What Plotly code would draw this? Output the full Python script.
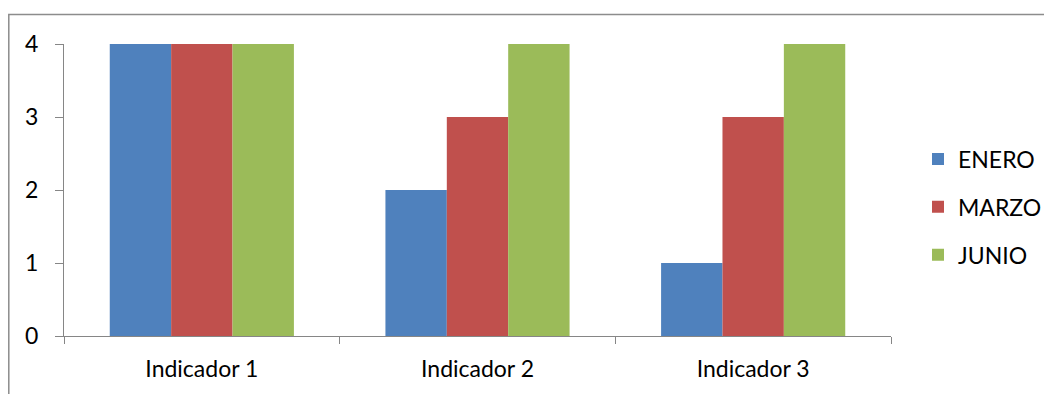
import plotly.graph_objects as go

categories = ["Indicador 1", "Indicador 2", "Indicador 3"]
enero = [4, 2, 1]
marzo = [4, 3, 3]
junio = [4, 4, 4]
series_names = ["ENERO", "MARZO", "JUNIO"]
colors = ["#4F81BD", "#C0504D", "#9BBB59"]

fig = go.Figure()
for name, vals, col in zip(series_names, [enero, marzo, junio], colors):
    fig.add_trace(go.Bar(x=categories, y=vals, name=name, marker_color=col,
                         marker_line_width=0, legendgroup=name))

FONT = "Lato"
W, H = 1044, 386
L, T = 56, 36
R, B = 161, 58
PW, PH = W - L - R, H - T - B
fig.update_layout(
    width=W, height=H,
    margin=dict(l=L, r=R, t=T, b=B, autoexpand=False),
    paper_bgcolor="white", plot_bgcolor="white",
    barmode="group", bargap=0.332, bargroupgap=0,
    font=dict(family=FONT, size=23, color="#000000"),
    showlegend=True,
    legend=dict(x=(910 - L) / PW, y=1 - (199 - T) / PH, xanchor="left", yanchor="middle",
                font=dict(size=23), tracegroupgap=15, itemwidth=30,
                bgcolor="rgba(0,0,0,0)"),
    xaxis=dict(showline=True, linecolor="#868686", linewidth=1,
               ticks="outside", tickson="boundaries", ticklen=7,
               tickcolor="#868686", showgrid=False, zeroline=False,
               range=[-0.5, 2.5], automargin=False, ticklabelstandoff=12),
    yaxis=dict(showline=True, linecolor="#868686", linewidth=1,
               ticks="outside", ticklen=8, tickcolor="#868686",
               showgrid=False, zeroline=False, range=[0, 4],
               tickvals=[0, 1, 2, 3, 4], ticklabelstandoff=12,
               automargin=False),
    shapes=[dict(type="rect", xref="paper", yref="paper",
                 x0=(0.8 - L) / PW, x1=2, y0=-2, y1=1 + (T - 6.5) / PH,
                 line=dict(color="#8C8C8C", width=1.5), layer="below")],
)

fig.write_html("out.html")
